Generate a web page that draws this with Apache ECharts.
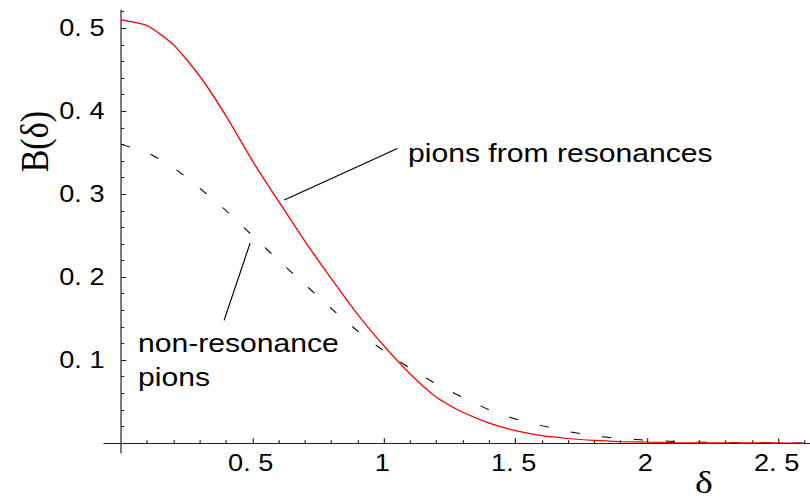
<!DOCTYPE html>
<html>
<head>
<meta charset="utf-8">
<script src="https://cdn.jsdelivr.net/npm/echarts@6/dist/echarts.min.js"></script>
<style>
  html, body { margin: 0; padding: 0; background: #fff; overflow: hidden; }
  /* the plot is laid out 686px wide and stretched to 810px, the way the figure was exported */
  #chart { width: 686px; height: 499px; transform: scaleX(1.180758); transform-origin: 0 0; }
</style>
</head>
<body>
<div id="chart"></div>
<script>
// delta grid shared by both curves
const delta = [0, 0.1, 0.2, 0.3, 0.4, 0.5, 0.6, 0.7, 0.8, 0.9, 1.0, 1.1, 1.2, 1.3,
               1.4, 1.5, 1.6, 1.7, 1.8, 1.9, 2.0, 2.1, 2.2, 2.3, 2.4, 2.5, 2.6];
// B(delta) for pions coming from resonance decays (solid red)
const resonancePions = [0.510, 0.503, 0.480, 0.442, 0.394, 0.340, 0.291, 0.243, 0.198,
                        0.155, 0.117, 0.083, 0.055, 0.037, 0.024, 0.015, 0.009, 0.0055,
                        0.0032, 0.0018, 0.0010, 0.0005, 0.0003, 0.0002, 0.0001, 0.0001, 0];
// B(delta) for directly produced pions (dashed black)
const directPions = [0.360, 0.350, 0.332, 0.307, 0.280, 0.250, 0.220, 0.191, 0.162,
                     0.135, 0.111, 0.090, 0.071, 0.055, 0.040, 0.029, 0.021, 0.014,
                     0.0085, 0.0055, 0.0035, 0.0020, 0.0012, 0.0007, 0.0004, 0.0002, 0.0001];

// tick positions
const xMajorTicks = [0.5, 1, 1.5, 2, 2.5];
const xMinorTicks = [0.1, 0.2, 0.3, 0.4, 0.6, 0.7, 0.8, 0.9, 1.1, 1.2, 1.3, 1.4,
                     1.6, 1.7, 1.8, 1.9, 2.1, 2.2, 2.3, 2.4, 2.6];
const yMajorTicks = [0.1, 0.2, 0.3, 0.4, 0.5];
const yMinorTicks = [0.02, 0.04, 0.06, 0.08, 0.12, 0.14, 0.16, 0.18, 0.22, 0.24, 0.26, 0.28,
                     0.32, 0.34, 0.36, 0.38, 0.42, 0.44, 0.46, 0.48, 0.52];

// horizontal stretch applied to the container
const STRETCH = 810 / 686;
const px = x => x / STRETCH;

// "0. 5"-style tick labels, integers left bare
function tickText(v) {
  if (Number.isInteger(v)) return String(v);
  return v.toFixed(1).replace('.', '. ');
}

const X_MIN = -0.065, X_MAX = 2.62;
const Y_MIN = -0.012, Y_MAX = 0.522;
const AXIS_COLOR = '#222';
const LABEL_FONT = '"Liberation Sans", Arial, sans-serif';
const SERIF_FONT = '"Liberation Serif", "Times New Roman", serif';

const chart = echarts.init(document.getElementById('chart'), null, { renderer: 'svg' });

chart.setOption({
  animation: false,
  backgroundColor: '#fff',
  grid: { left: 88, right: 0, top: 10, bottom: 46 },
  xAxis: [
    {
      type: 'value', min: X_MIN, max: X_MAX, position: 'bottom',
      axisLine: { onZero: true, onZeroAxisIndex: 0, lineStyle: { color: AXIS_COLOR, width: 1 } },
      axisTick: { inside: true, length: 4.8, customValues: xMajorTicks, lineStyle: { color: AXIS_COLOR } },
      axisLabel: { customValues: xMajorTicks, formatter: tickText, margin: -2, padding: [0, 3, 0, 0],
                   fontFamily: LABEL_FONT, fontSize: 23, color: '#000' },
      splitLine: { show: false }
    },
    {
      type: 'value', min: X_MIN, max: X_MAX, position: 'bottom',
      axisLine: { show: false, onZero: true, onZeroAxisIndex: 0 },
      axisTick: { inside: true, length: 2.8, customValues: xMinorTicks, lineStyle: { color: AXIS_COLOR } },
      axisLabel: { show: false },
      splitLine: { show: false }
    }
  ],
  yAxis: [
    {
      type: 'value', min: Y_MIN, max: Y_MAX, position: 'left',
      axisLine: { onZero: true, onZeroAxisIndex: 0, lineStyle: { color: AXIS_COLOR, width: 1 } },
      axisTick: { inside: true, length: 4.5, customValues: yMajorTicks, lineStyle: { color: AXIS_COLOR } },
      axisLabel: { customValues: yMajorTicks, formatter: tickText, margin: -0.5, padding: [5, 0, 0, 0],
                   fontFamily: LABEL_FONT, fontSize: 23, color: '#000' },
      splitLine: { show: false }
    },
    {
      type: 'value', min: Y_MIN, max: Y_MAX, position: 'left',
      axisLine: { show: false, onZero: true, onZeroAxisIndex: 0 },
      axisTick: { inside: true, length: 2.8, customValues: yMinorTicks, lineStyle: { color: AXIS_COLOR } },
      axisLabel: { show: false },
      splitLine: { show: false }
    }
  ],
  series: [
    {
      name: 'pions from resonances',
      type: 'line', xAxisIndex: 0, yAxisIndex: 0,
      data: delta.map((d, i) => [d, resonancePions[i]]),
      showSymbol: false, symbol: 'none', smooth: 0.2,
      lineStyle: { color: '#ff0000', width: 1.2 },
      z: 3,
      markLine: {
        silent: true, symbol: ['none', 'none'], label: { show: false },
        lineStyle: { color: '#000', width: 1, type: 'solid' },
        data: [[{ coord: [0.621, 0.293] }, { coord: [1.051, 0.355] }]]
      }
    },
    {
      name: 'non-resonance pions',
      type: 'line', xAxisIndex: 0, yAxisIndex: 0,
      data: delta.map((d, i) => [d, directPions[i]]),
      showSymbol: false, symbol: 'none', smooth: 0.2,
      lineStyle: { color: '#000', width: 1, type: [8, 19] },
      z: 2,
      markLine: {
        silent: true, symbol: ['none', 'none'], label: { show: false },
        lineStyle: { color: '#000', width: 1, type: 'solid' },
        data: [[{ coord: [0.491, 0.241] }, { coord: [0.392, 0.148] }]]
      }
    }
  ],
  graphic: [
    {
      type: 'text', x: px(35), y: 141.7, rotation: Math.PI / 2,
      style: { text: 'B(δ)', font: '34px ' + SERIF_FONT,
               fill: '#000', align: 'center', verticalAlign: 'middle' }
    },
    {
      type: 'text', x: px(704), y: 482,
      style: { text: 'δ', font: '32px ' + SERIF_FONT, lineHeight: 22,
               fill: '#000', align: 'center', verticalAlign: 'middle' }
    },
    {
      type: 'text', x: px(408), y: 153,
      style: { text: 'pions from resonances', font: '25.5px ' + LABEL_FONT,
               fill: '#000', align: 'left', verticalAlign: 'middle' }
    },
    {
      type: 'text', x: px(138), y: 343,
      style: { text: 'non-resonance', font: '25.5px ' + LABEL_FONT,
               fill: '#000', align: 'left', verticalAlign: 'middle' }
    },
    {
      type: 'text', x: px(138), y: 377.5,
      style: { text: 'pions', font: '25.5px ' + LABEL_FONT,
               fill: '#000', align: 'left', verticalAlign: 'middle' }
    }
  ]
});
</script>
</body>
</html>
